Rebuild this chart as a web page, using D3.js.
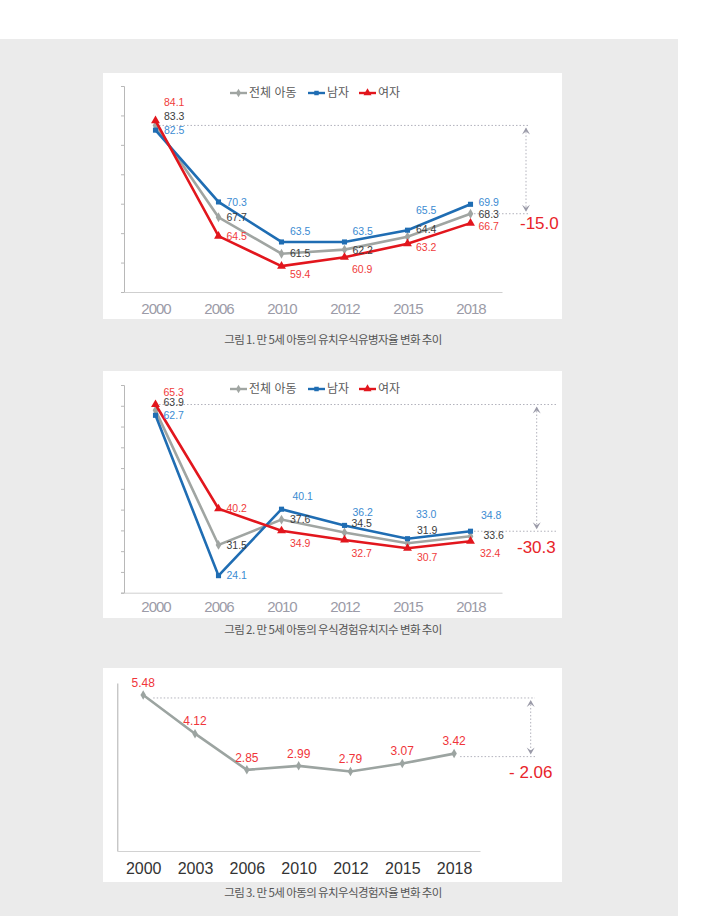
<!DOCTYPE html>
<html>
<head>
<meta charset="utf-8">
<script src="https://cdn.jsdelivr.net/npm/d3@7"></script>
<style>
body { margin: 0; background: #fff; }
svg { display: block; font-family: "Liberation Sans", Arial, "Noto Sans CJK KR", sans-serif; }
</style>
</head>
<body>
<div id="vis"></div>
<script>
const WIDTH = 719, HEIGHT = 916;

// data
const YEARS_A = ["2000", "2006", "2010", "2012", "2015", "2018"];
const YEARS_B = ["2000", "2003", "2006", "2010", "2012", "2015", "2018"];
const SERIES = ["전체 아동", "남자", "여자"];

// fig 1 - 유치우식유병자율
const PREV_ALL = [83.3, 67.7, 61.5, 62.2, 64.4, 68.3];
const PREV_BOY = [82.5, 70.3, 63.5, 63.5, 65.5, 69.9];
const PREV_GIRL = [84.1, 64.5, 59.4, 60.9, 63.2, 66.7];

// fig 2 - 우식경험유치지수
const DMFT_ALL = [63.9, 31.5, 37.6, 34.5, 31.9, 33.6];
const DMFT_BOY = [62.7, 24.1, 40.1, 36.2, 33.0, 34.8];
const DMFT_GIRL = [65.3, 40.2, 34.9, 32.7, 30.7, 32.4];

// fig 3 - 유치우식경험자율
const EXP_RATE = [5.48, 4.12, 2.85, 2.99, 2.79, 3.07, 3.42];

const CHANGES = ["-15.0", "-30.3", "- 2.06"];
const CAPTIONS = [
  "그림 1. 만 5세 아동의 유치우식유병자율 변화 추이",
  "그림 2. 만 5세 아동의 우식경험유치지수 변화 추이",
  "그림 3. 만 5세 아동의 유치우식경험자율 변화 추이"
];

const COLORS = ["#a0a5a2", "#1f6db3", "#e2161d"];
const LABEL_COLORS = ["#3c3c3c", "#3b8bd2", "#f03b3b"];

const svg = d3.select("#vis")
  .append("svg")
    .attr("width", WIDTH)
    .attr("height", HEIGHT);

svg.append("rect")
  .attr("x", 0).attr("y", 39)
  .attr("width", 678).attr("height", HEIGHT - 39)
  .attr("fill", "#ebebeb");

// small arrow head, dir -1 = up, 1 = down
function arrowHead(g, x, y, dir) {
  g.append("path")
    .attr("d", `M${x - 4},${y - dir * 7}L${x},${y}L${x + 4},${y - dir * 7}L${x},${y - dir * 4}Z`)
    .attr("fill", "#9a9aa8");
}

function refMarks(g, o) {
  const dot = {stroke: "#b2b2bc", "stroke-width": 1, "stroke-dasharray": "1.5,2"};
  const hl = [[o.x1, o.yTop], [o.x2, o.yBot]];
  hl.forEach(([xs, yy]) => {
    const l = g.append("line").attr("x1", xs).attr("x2", o.xEnd).attr("y1", yy).attr("y2", yy);
    Object.entries(dot).forEach(([k, v]) => l.attr(k, v));
  });
  const v = g.append("line").attr("x1", o.xArrow).attr("x2", o.xArrow)
    .attr("y1", o.yTop + 3).attr("y2", o.yBot - 3);
  Object.entries(dot).forEach(([k, val]) => v.attr(k, val));
  arrowHead(g, o.xArrow, o.yTop + 2, -1);
  arrowHead(g, o.xArrow, o.yBot - 2, 1);
  g.append("text")
    .attr("x", o.tx).attr("y", o.ty).attr("dy", "0.35em")
    .attr("font-size", 17).attr("fill", "#e8242a")
    .text(o.text);
}

const symbols = [d3.symbolDiamond, d3.symbolSquare, d3.symbolTriangle];
const symSize = [28, 26, 34];

function lineChart(o) {
  const g = svg.append("g");
  g.append("rect")
    .attr("x", 103).attr("y", o.boxTop)
    .attr("width", 459).attr("height", o.boxH)
    .attr("fill", "#fff");

  const x = d3.scalePoint().domain(YEARS_A).range([124, 502]).padding(0.5);
  const y = d3.scaleLinear().domain(o.yDomain).range(o.yRange);

  g.append("g")
    .attr("transform", "translate(124,0)")
    .call(d3.axisLeft(y).ticks(o.ticks).tickSize(3).tickSizeOuter(3).tickFormat(""))
    .call(a => a.selectAll("path,line").attr("stroke", "#b8b8b8"));

  g.append("g")
    .attr("transform", `translate(0,${o.yRange[0]})`)
    .call(d3.axisBottom(x).tickSize(0).tickPadding(o.pad))
    .call(a => a.select(".domain").attr("stroke", "#cfcfcf"))
    .call(a => a.selectAll("text")
      .attr("font-size", 15).attr("letter-spacing", -1)
      .attr("font-family", "Liberation Sans, Arial, sans-serif")
      .attr("fill", "#9b9ba7"));

  refMarks(g, {
    x1: x(YEARS_A[0]), x2: x(YEARS_A[5]), xEnd: o.xEnd, xArrow: o.xArrow,
    yTop: y(o.data[o.refTop[0]][o.refTop[1]]),
    yBot: y(o.data[o.refBot[0]][o.refBot[1]]),
    tx: o.tx, ty: o.ty, text: o.change
  });

  const line = d3.line().x((d, i) => x(YEARS_A[i])).y(d => y(d));

  o.data.forEach((vals, s) => {
    g.append("path")
      .datum(vals)
      .attr("d", line)
      .attr("fill", "none")
      .attr("stroke", COLORS[s])
      .attr("stroke-width", 2.6);
    g.selectAll(null)
      .data(vals)
      .enter()
      .append("path")
        .attr("d", d3.symbol(symbols[s], symSize[s]))
        .attr("transform", (d, i) => `translate(${x(YEARS_A[i])},${y(d)})`)
        .attr("fill", COLORS[s]);
  });

  o.data.forEach((vals, s) => {
    g.selectAll(null)
      .data(vals)
      .enter()
      .append("text")
        .attr("x", (d, i) => x(YEARS_A[i]) + o.offsets[s][i][0])
        .attr("y", (d, i) => y(d) + o.offsets[s][i][1])
        .attr("dy", "0.35em")
        .attr("font-size", 10.5)
        .attr("fill", LABEL_COLORS[s])
        .text(d => d.toFixed(1));
  });

  // legend
  const lx = [230, 308, 359];
  SERIES.forEach((name, s) => {
    g.append("line")
      .attr("x1", lx[s]).attr("x2", lx[s] + 17)
      .attr("y1", o.legendY).attr("y2", o.legendY)
      .attr("stroke", COLORS[s]).attr("stroke-width", 2.4);
    g.append("path")
      .attr("d", d3.symbol(symbols[s], symSize[s] - 6))
      .attr("transform", `translate(${lx[s] + 8.5},${o.legendY})`)
      .attr("fill", COLORS[s]);
    g.append("text")
      .attr("x", lx[s] + 19).attr("y", o.legendY).attr("dy", "0.36em")
      .attr("font-size", 12).attr("fill", "#5a5a5a")
      .text(name);
  });
}

lineChart({
  boxTop: 73, boxH: 246,
  yDomain: [55, 90], yRange: [292, 86], ticks: 7, pad: 11,
  data: [PREV_ALL, PREV_BOY, PREV_GIRL],
  offsets: [
    [[8.5, -9], [8, 0], [8.5, 0], [8, 1], [8.5, -7], [8, 1]],
    [[8.5, 0], [8, 0], [8.5, -11], [8, -11], [8.5, -20], [8, -1.5]],
    [[8.5, -18], [8, 0], [8.5, 8], [7.5, 12], [8.5, 4], [8, 3.5]]
  ],
  refTop: [0, 0], refBot: [0, 5],
  xEnd: 530, xArrow: 526, tx: 520, ty: 223, change: CHANGES[0],
  legendY: 93
});

lineChart({
  boxTop: 371, boxH: 247,
  yDomain: [20, 70], yRange: [592.7, 385], ticks: 10, pad: 9,
  data: [DMFT_ALL, DMFT_BOY, DMFT_GIRL],
  offsets: [
    [[8, -8], [8, 0], [8.5, 0], [7, -9.5], [9.5, -13], [13, -1]],
    [[8, 0], [8, 0], [11, -13], [8, -13.5], [8.5, -24], [10.5, -15.5]],
    [[8, -12.5], [8, 0], [8.5, 12.5], [7, 13.5], [9.5, 9], [9.5, 12]]
  ],
  refTop: [2, 0], refBot: [1, 5],
  xEnd: 558, xArrow: 536.7, tx: 517, ty: 546.7, change: CHANGES[1],
  legendY: 389
});

// fig 3
const g3 = svg.append("g");
g3.append("rect")
  .attr("x", 103).attr("y", 668)
  .attr("width", 459).attr("height", 214)
  .attr("fill", "#fff");

const X3 = d3.scalePoint().domain(YEARS_B).range([117.3, 480]).padding(0.5);
const Y3 = d3.scaleLinear().domain([0, 5.9]).range([851, 683]);

g3.append("g")
  .attr("transform", "translate(117.3,0)")
  .call(d3.axisLeft(Y3).tickValues([]).tickSizeOuter(0))
  .call(a => a.select(".domain").attr("stroke", "#b0b0b0"));

g3.append("g")
  .attr("transform", `translate(0,${Y3(0)})`)
  .call(d3.axisBottom(X3).tickSize(0).tickPadding(12))
  .call(a => a.select(".domain").attr("stroke", "#d2d2d2"))
  .call(a => a.selectAll("text")
    .attr("font-size", 16)
    .attr("font-family", "Liberation Sans, Arial, sans-serif")
    .attr("fill", "#333"));

refMarks(g3, {
  x1: X3(YEARS_B[0]) + 10, x2: X3(YEARS_B[6]) + 6, xEnd: 535, xArrow: 530.7,
  yTop: Y3(EXP_RATE[0]) + 3, yBot: Y3(EXP_RATE[6]) + 3,
  tx: 509, ty: 772, text: CHANGES[2]
});

g3.append("path")
  .datum(EXP_RATE)
  .attr("d", d3.line().x((d, i) => X3(YEARS_B[i])).y(d => Y3(d)))
  .attr("fill", "none")
  .attr("stroke", "#9ca4a1")
  .attr("stroke-width", 2.6);

g3.selectAll(null)
  .data(EXP_RATE)
  .enter()
  .append("path")
    .attr("d", d3.symbol(d3.symbolDiamond, 26))
    .attr("transform", (d, i) => `translate(${X3(YEARS_B[i])},${Y3(d)})`)
    .attr("fill", "#9ca4a1");

g3.selectAll(null)
  .data(EXP_RATE)
  .enter()
  .append("text")
    .attr("x", (d, i) => X3(YEARS_B[i]))
    .attr("y", d => Y3(d) - 12.5)
    .attr("dy", "0.35em")
    .attr("text-anchor", "middle")
    .attr("font-size", 12)
    .attr("fill", "#f0353a")
    .text(d => d.toFixed(2));

// captions
const CAPTION_Y = [340, 630, 893];
CAPTIONS.forEach((c, i) => {
  svg.append("text")
    .attr("x", 333).attr("y", CAPTION_Y[i]).attr("dy", "0.35em")
    .attr("text-anchor", "middle")
    .attr("font-family", "Noto Sans CJK KR, sans-serif")
    .attr("font-size", 11.5).attr("letter-spacing", -0.6)
    .attr("fill", "#555")
    .text(c);
});
</script>
</body>
</html>
